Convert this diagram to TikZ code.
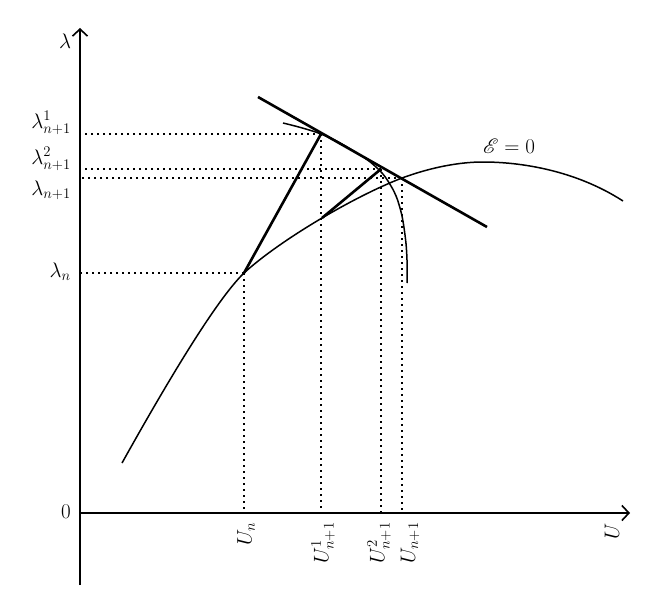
\RequirePackage{fix-cm}
\documentclass[tikz,border=0pt]{standalone}
\usepackage{amsmath,amssymb}
\usepackage{mathrsfs}
\usetikzlibrary{arrows.meta}

\begin{document}
\begin{tikzpicture}[
    x=1pt, y=-1pt,
    font=\fontsize{21}{25}\selectfont,
    axis/.style={line width=1.8pt, -{Straight Barb[length=7pt, width=15pt, line width=1.6pt]}},
    curve/.style={line width=1.5pt},
    pred/.style={line width=2.6pt},
    guide/.style={line width=1.8pt, dash pattern=on 1.8pt off 4.2pt},
    lbl/.style={inner sep=0pt},
    ulbl/.style={inner sep=0pt, rotate=90, anchor=east},
]
\useasboundingbox (0,0) rectangle (660,615);

% Axes
\coordinate (O) at (80,513);
\coordinate (ybot) at (80,585);
\coordinate (ytop) at (80,28);
\coordinate (xend) at (630,513);
\draw[axis] (ybot) -- (ytop);
\draw[axis] (O) -- (xend);
\node[lbl] (lam) at (65,41) {$\lambda$};
\node[lbl] (zero) at (66,512) {$0$};

% Points of the continuation step
\coordinate (pn) at (244,273);
\coordinate (p1) at (321,134);
\coordinate (q) at (322,218);
\coordinate (p2) at (381,169);
\coordinate (pnext) at (402,178);

% Solution branch E = 0
\draw[curve] (122,463) .. controls (160,395) and (214,302) .. (pn)
    .. controls (280,240) and (355,196) .. (pnext)
    .. controls (432,167) and (460,162) .. (483,162)
    .. controls (520,162) and (575,170) .. (623,201);
\node[lbl] (elbl) at (509,146) {$\mathscr{E}=0$};

% Corrector arc
\draw[curve] plot[smooth, tension=0.7] coordinates {
    (283,123) (p1) (352,150) (376,167) (391,186) (400,208) (405,235)
    (407,260) (407,283)};

% Tangent and predictor lines
\coordinate (ta) at (258,97);
\coordinate (tb) at (487,227);
\draw[pred] (ta) -- (tb);
\draw[pred] (pn) -- (p1);
\draw[pred] (q) -- (p2);

% Dotted guides to the axes
\foreach \p in {pn, p1, p2, pnext} {
    \draw[guide] (\p) -- (\p -| O);
    \draw[guide] (\p) -- (\p |- O);
}

% Labels on lambda axis
\node[lbl, anchor=east] (l1) at (71,123) {$\lambda^1_{n+1}$};
\node[lbl, anchor=east] (l2) at (71,159) {$\lambda^2_{n+1}$};
\node[lbl, anchor=east] (l3) at (71,190) {$\lambda_{n+1}$};
\node[lbl, anchor=east] (l4) at (71,272) {$\lambda_n$};

% Labels on U axis
\node[ulbl] (u0) at (246,522) {$U_n$};
\node[ulbl] (u1) at (323,522) {$U^1_{n+1}$};
\node[ulbl] (u2) at (379,522) {$U^2_{n+1}$};
\node[ulbl] (u3) at (410,522) {$U_{n+1}$};
\node[ulbl] (ux) at (612,523) {$U$};

\end{tikzpicture}
\end{document}
